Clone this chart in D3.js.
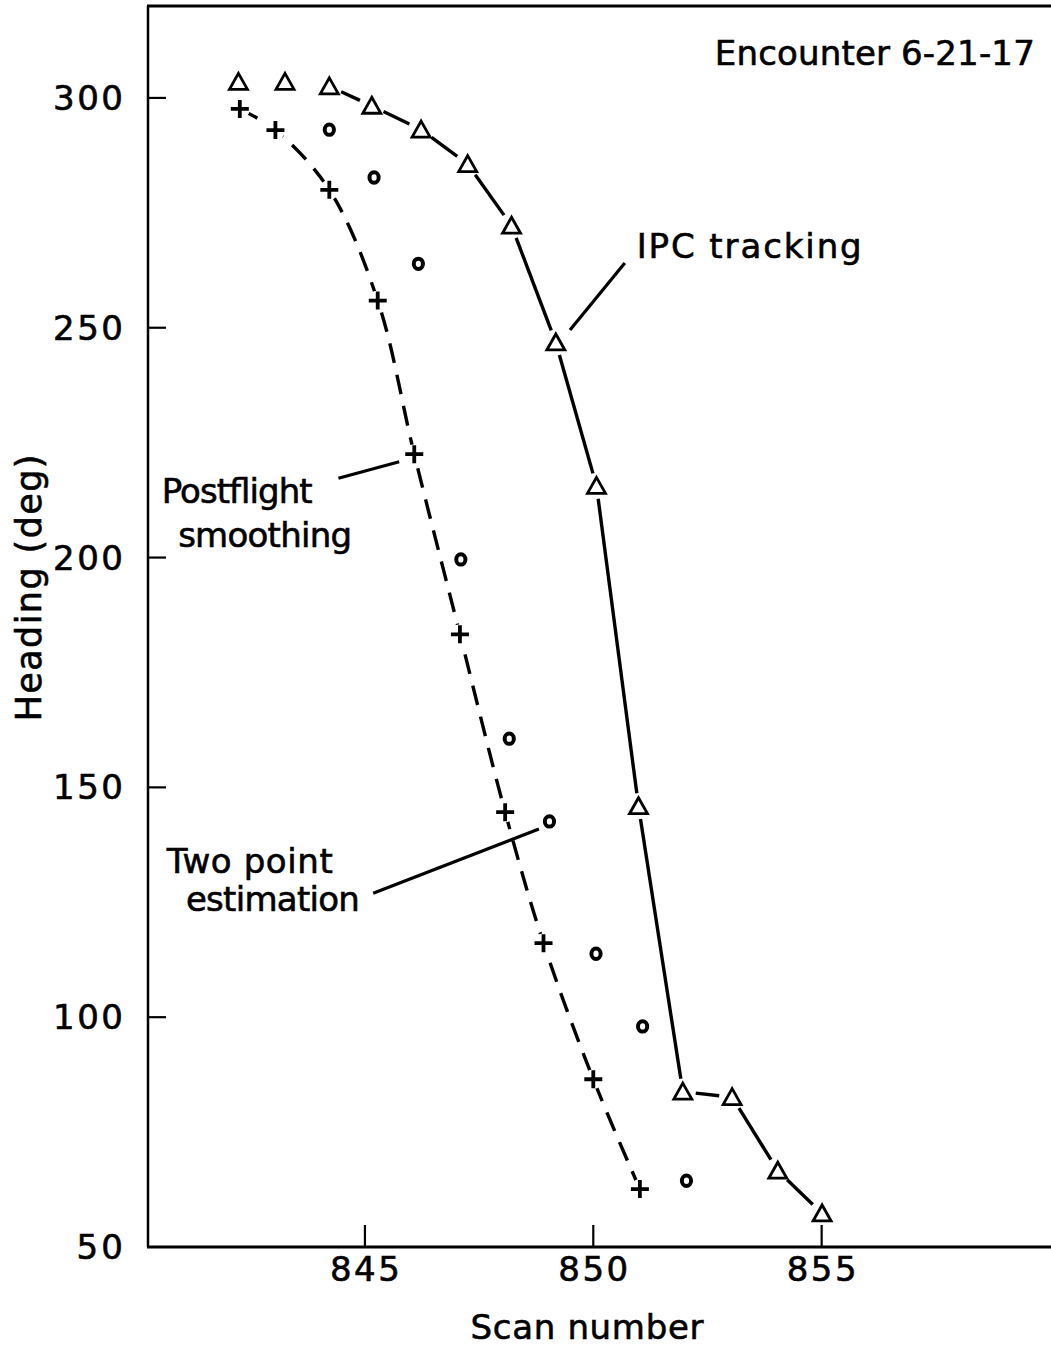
<!DOCTYPE html>
<html>
<head>
<meta charset="utf-8">
<script src="https://cdn.jsdelivr.net/npm/d3@7"></script>
<style>
  body { margin: 0; background: #fff; }
  text { font-family: "DejaVu Sans", sans-serif; fill: #000; stroke: #000; stroke-width: 0.6px; }
</style>
</head>
<body>
<div id="chart"></div>
<script>
// data (scan number, heading in deg)
const ipcScan = [842.23, 843.25, 844.22, 845.15, 846.23, 847.25, 848.21, 849.18, 850.07, 850.99, 851.96, 853.04, 854.04, 855.01];
const ipcHeading = [303.5, 303.5, 302.5, 298.3, 293.1, 285.6, 272.2, 246.8, 215.6, 145.9, 83.8, 82.6, 66.6, 57.3];
const ipcLineStart = 2; // line starts at the third triangle

const smoothScan = [842.26, 843.04, 844.22, 845.28, 846.08, 847.08, 848.07, 848.91, 850.0, 851.02];
const smoothHeading = [297.6, 293.0, 280.0, 255.9, 222.5, 183.3, 144.6, 116.1, 86.5, 62.6];

const twoPtScan = [844.22, 845.2, 846.17, 847.1, 848.16, 849.04, 850.06, 851.08, 852.04];
const twoPtHeading = [293.1, 282.7, 263.9, 199.6, 160.6, 142.6, 113.8, 98.0, 64.4];

const xTicks = [845, 850, 855];
const yTicks = [50, 100, 150, 200, 250, 300];

// annotation text and leader lines, in data units
const labels = [
  {text: "Encounter 6-21-17", x: 852.66, y: 307.2, len: 320},
  {text: "IPC tracking", x: 850.95, y: 265.2, len: 225},
  {text: "Postflight", x: 840.55, y: 211.8, len: 151},
  {text: "smoothing", x: 840.91, y: 202.35, len: 174},
  {text: "Two point", x: 840.66, y: 131.3, len: 166},
  {text: "estimation", x: 841.08, y: 123.15, len: 174}
];
const leaders = [
  [[849.49, 249.5], [850.69, 264.08]],
  [[844.42, 217.24], [845.75, 220.85]],
  [[845.18, 126.94], [848.81, 140.93]]
];

const W = 1051, H = 1347;
const svg = d3.select("#chart").append("svg")
  .attr("width", W)
  .attr("height", H);

const x = d3.scaleLinear().domain([840.25, 860]).range([148, 1050]);
const y = d3.scaleLinear().domain([50, 320]).range([1247, 6]);

// digit labels are drawn a bit wider than the font's default
const digitW = 23.3;

////////////////////
// frame + ticks
svg.append("line")
  .attr("x1", x(840.25)).attr("x2", x(840.25))
  .attr("y1", y(320)).attr("y2", y(50))
  .attr("stroke", "#000").attr("stroke-width", 2.5);
svg.append("line")
  .attr("x1", x(840.25) - 1).attr("x2", W)
  .attr("y1", y(320)).attr("y2", y(320))
  .attr("stroke", "#000").attr("stroke-width", 3);
svg.append("line")
  .attr("x1", x(840.25) - 1).attr("x2", W)
  .attr("y1", y(50)).attr("y2", y(50))
  .attr("stroke", "#000").attr("stroke-width", 3);

svg.selectAll(".ytick").data(yTicks.filter(d => d > 50)).enter().append("line")
  .attr("x1", x(840.25)).attr("x2", x(840.25) + 18)
  .attr("y1", d => y(d)).attr("y2", d => y(d))
  .attr("stroke", "#000").attr("stroke-width", 2.2);

svg.selectAll(".ylab").data(yTicks).enter().append("text")
  .attr("x", x(840.25) - 25)
  .attr("y", d => y(d) + 12)
  .attr("text-anchor", "end")
  .attr("textLength", d => String(d).length * digitW).attr("lengthAdjust", "spacing")
  .style("font-size", "34px")
  .text(d => d);

svg.selectAll(".xtick").data(xTicks).enter().append("line")
  .attr("x1", d => x(d)).attr("x2", d => x(d))
  .attr("y1", y(50)).attr("y2", y(50) - 22)
  .attr("stroke", "#000").attr("stroke-width", 2.2);

svg.selectAll(".xlab").data(xTicks).enter().append("text")
  .attr("x", d => x(d))
  .attr("y", y(50) + 34)
  .attr("text-anchor", "middle")
  .attr("textLength", d => String(d).length * digitW).attr("lengthAdjust", "spacing")
  .style("font-size", "34px")
  .text(d => d);

svg.append("text")
  .attr("x", 587).attr("y", 1339)
  .attr("text-anchor", "middle")
  .attr("textLength", 233).attr("lengthAdjust", "spacing")
  .style("font-size", "34px")
  .text("Scan number");

svg.append("text")
  .attr("transform", "translate(41,588) rotate(-90)")
  .attr("text-anchor", "middle")
  .attr("textLength", 267).attr("lengthAdjust", "spacing")
  .style("font-size", "35px")
  .text("Heading (deg)");

////////////////////
// postflight smoothing: dashed smooth curve + plus markers
const smooth = smoothScan.map((s, i) => ({x: s, y: smoothHeading[i]}));
svg.append("path")
  .datum(smooth)
  .attr("fill", "none")
  .attr("stroke", "#000")
  .attr("stroke-width", 3.4)
  .attr("stroke-dasharray", "20,12")
  .attr("d", d3.line().x(d => x(d.x)).y(d => y(d.y)).curve(d3.curveCatmullRom.alpha(0.5)));

// small white halo so the dashes stop short of each plus
svg.selectAll(".halo").data(smooth).enter().append("circle")
  .attr("cx", d => x(d.x)).attr("cy", d => y(d.y))
  .attr("r", 10)
  .attr("fill", "#fff");

svg.selectAll(".plus").data(smooth).enter().append("path")
  .attr("transform", d => "translate(" + x(d.x) + "," + y(d.y) + ")")
  .attr("d", "M-9,0H9M0,-9V9")
  .attr("stroke", "#000")
  .attr("stroke-width", 3.8);

////////////////////
// IPC tracking: solid segments with gaps at the triangles
const ipc = ipcScan.map((s, i) => ({x: s, y: ipcHeading[i]}));
const gap = 13;
const segs = [];
for (let i = ipcLineStart; i < ipc.length - 1; i++) {
  const x1 = x(ipc[i].x), y1 = y(ipc[i].y), x2 = x(ipc[i + 1].x), y2 = y(ipc[i + 1].y);
  const len = Math.hypot(x2 - x1, y2 - y1);
  const ux = (x2 - x1) / len, uy = (y2 - y1) / len;
  segs.push([x1 + ux * gap, y1 + uy * gap, x2 - ux * gap, y2 - uy * gap]);
}
svg.selectAll(".seg").data(segs).enter().append("line")
  .attr("x1", d => d[0]).attr("y1", d => d[1])
  .attr("x2", d => d[2]).attr("y2", d => d[3])
  .attr("stroke", "#000").attr("stroke-width", 3.4);

svg.selectAll(".tri").data(ipc).enter().append("path")
  .attr("transform", d => "translate(" + x(d.x) + "," + y(d.y) + ")")
  .attr("d", "M0,-8.5L9,7.5L-9,7.5Z")
  .attr("fill", "#fff")
  .attr("stroke", "#000")
  .attr("stroke-width", 2.8);

////////////////////
// two point estimation: small open circles
const twoPt = twoPtScan.map((s, i) => ({x: s, y: twoPtHeading[i]}));
svg.selectAll(".o").data(twoPt).enter().append("ellipse")
  .attr("cx", d => x(d.x)).attr("cy", d => y(d.y))
  .attr("rx", 4.6).attr("ry", 5.2)
  .attr("fill", "none")
  .attr("stroke", "#000")
  .attr("stroke-width", 4);

////////////////////
// annotations
svg.selectAll(".leader").data(leaders).enter().append("line")
  .attr("x1", d => x(d[0][0])).attr("y1", d => y(d[0][1]))
  .attr("x2", d => x(d[1][0])).attr("y2", d => y(d[1][1]))
  .attr("stroke", "#000").attr("stroke-width", 3.2);

svg.selectAll(".note").data(labels).enter().append("text")
  .attr("x", d => x(d.x)).attr("y", d => y(d.y))
  .attr("textLength", d => d.len).attr("lengthAdjust", "spacing")
  .style("font-size", "34px")
  .text(d => d.text);
</script>
</body>
</html>
